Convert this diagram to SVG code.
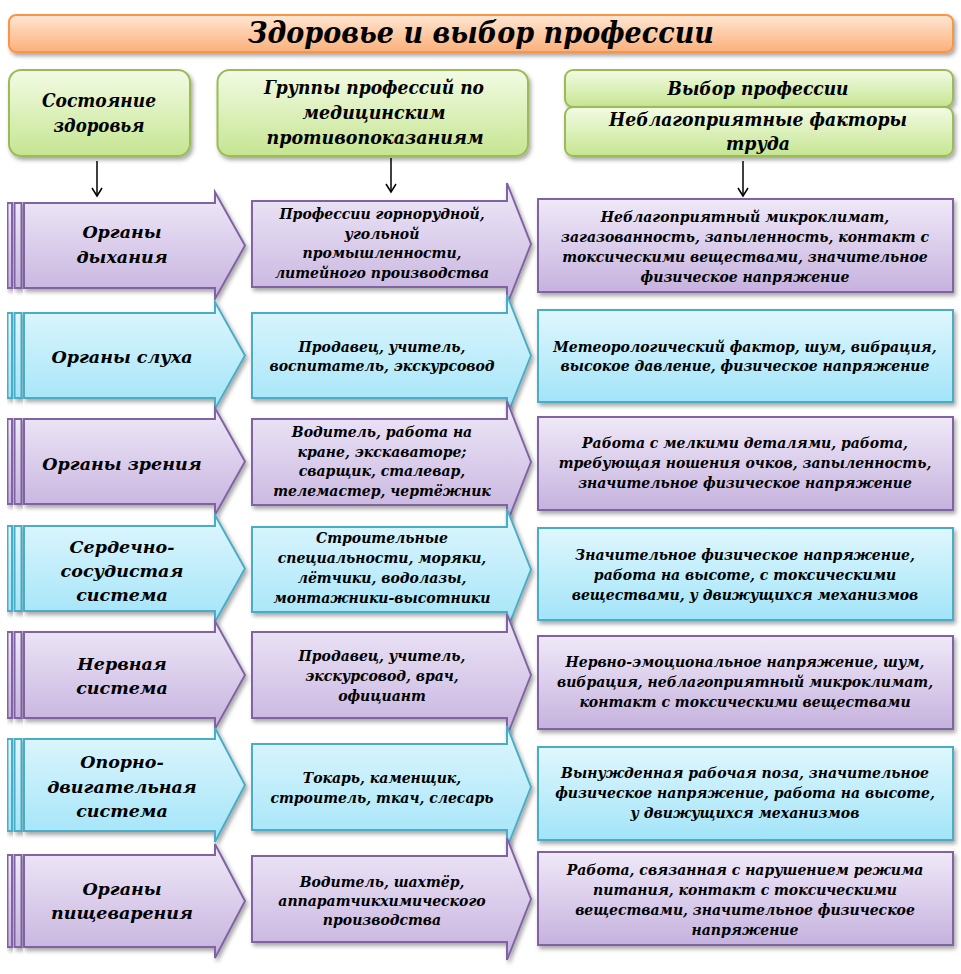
<svg xmlns="http://www.w3.org/2000/svg" width="961" height="974" viewBox="0 0 961 974">
<defs>
<linearGradient id="gP" x1="0" y1="0" x2="0" y2="1"><stop offset="0" stop-color="#efe9f8"/><stop offset="1" stop-color="#c6b2de"/></linearGradient>
<linearGradient id="gT" x1="0" y1="0" x2="0" y2="1"><stop offset="0" stop-color="#e0f7fd"/><stop offset="1" stop-color="#a2e4f8"/></linearGradient>
<linearGradient id="gG" x1="0" y1="0" x2="0" y2="1"><stop offset="0" stop-color="#f3fbe4"/><stop offset="1" stop-color="#c5e591"/></linearGradient>
<linearGradient id="gO" x1="0" y1="0" x2="0" y2="1"><stop offset="0" stop-color="#fee6d3"/><stop offset="1" stop-color="#fbb07a"/></linearGradient>
<filter id="sh" x="-10%" y="-10%" width="130%" height="140%"><feDropShadow dx="2" dy="3" stdDeviation="2" flood-color="#000" flood-opacity="0.35"/></filter>
<marker id="arr" markerWidth="12" markerHeight="12" refX="10" refY="6" orient="auto" markerUnits="userSpaceOnUse"><path d="M2,1 L10,6 L2,11" fill="none" stroke="#000" stroke-width="1.5"/></marker>
<style>
.t{font-family:"DejaVu Serif","Liberation Serif",serif;font-style:italic;fill:#000;text-anchor:middle}
.ti{font-size:29px;font-weight:bold}
.hd{font-size:18px;font-weight:bold}
.l{font-size:17.5px;font-weight:bold}
.m{font-size:14px;font-weight:bold}
.p{fill:url(#gP);stroke:#8064a2;stroke-width:2;filter:url(#sh)}
.c{fill:url(#gT);stroke:#4bacc6;stroke-width:2;filter:url(#sh)}
.g{fill:url(#gG);stroke:#9bbb59;stroke-width:2;filter:url(#sh)}
.o{fill:url(#gO);stroke:#f79646;stroke-width:2;filter:url(#sh)}
.cn{stroke:#000;stroke-width:1.5;fill:none;marker-end:url(#arr)}
</style>
</defs>
<rect width="961" height="974" fill="#fff"/>

<g id="title">
<rect class="o" x="9" y="15" width="944" height="37" rx="7"/>
<text class="t ti" x="481" y="43" textLength="466" lengthAdjust="spacingAndGlyphs">Здоровье и выбор профессии</text>
</g>

<g id="h1">
<rect class="g" x="9" y="70" width="181" height="86" rx="12"/>
<text class="t hd" x="99" y="107" textLength="114" lengthAdjust="spacingAndGlyphs">Состояние</text>
<text class="t hd" x="99" y="132" textLength="91" lengthAdjust="spacingAndGlyphs">здоровья</text>
</g>
<g id="h2">
<rect class="g" x="217.5" y="70" width="310.5" height="86" rx="12"/>
<text class="t hd" x="374" y="94" textLength="220" lengthAdjust="spacingAndGlyphs">Группы профессий по</text>
<text class="t hd" x="374" y="119" textLength="143" lengthAdjust="spacingAndGlyphs">медицинским</text>
<text class="t hd" x="375" y="144" textLength="217" lengthAdjust="spacingAndGlyphs">противопоказаниям</text>
</g>
<g id="h3a">
<rect class="g" x="565" y="70" width="388" height="37" rx="8"/>
<text class="t hd" x="758" y="95" textLength="181" lengthAdjust="spacingAndGlyphs">Выбор профессии</text>
</g>
<g id="h3b">
<rect class="g" x="565" y="107" width="388" height="49" rx="8"/>
<text class="t hd" x="758" y="126" textLength="298" lengthAdjust="spacingAndGlyphs">Неблагоприятные факторы</text>
<text class="t hd" x="758" y="150" textLength="64" lengthAdjust="spacingAndGlyphs">труда</text>
</g>

<g id="connectors">
<line class="cn" x1="97" y1="161" x2="97" y2="196"/>
<line class="cn" x1="391" y1="158" x2="391" y2="192"/>
<line class="cn" x1="743" y1="161" x2="743" y2="196"/>
</g>

<!-- Row 1 -->
<g id="r1-left">
<rect class="p" x="7.5" y="203" width="4.5" height="85"/><rect class="p" x="14.5" y="203" width="7" height="85"/>
<path class="p" d="M24,203 H215 V192 L245,245.5 L215,299 V288 H24 Z"/>
<text class="t l" x="122" y="238">Органы</text><text class="t l" x="122" y="263">дыхания</text>
</g>
<g id="r1-mid">
<path class="p" d="M252,201 H507 V183 L531,244 L507,305 V287 H252 Z"/>
<text class="t m" x="382" y="219">Профессии горнорудной,</text>
<text class="t m" x="382" y="238.5">угольной</text>
<text class="t m" x="382" y="258">промышленности,</text>
<text class="t m" x="382" y="277.5">литейного производства</text>
</g>
<g id="r1-right">
<rect class="p" x="538" y="199" width="415" height="93"/>
<text class="t m" x="745" y="221.5">Неблагоприятный микроклимат,</text>
<text class="t m" x="745" y="241.5">загазованность, запыленность, контакт с</text>
<text class="t m" x="745" y="261.5">токсическими веществами, значительное</text>
<text class="t m" x="745" y="281.5">физическое напряжение</text>
</g>

<!-- Row 2 -->
<g id="r2-left">
<rect class="c" x="7.5" y="313" width="4.5" height="85"/><rect class="c" x="14.5" y="313" width="7" height="85"/>
<path class="c" d="M24,313 H215 V302 L245,355.5 L215,409 V398 H24 Z"/>
<text class="t l" x="122" y="363">Органы слуха</text>
</g>
<g id="r2-mid">
<path class="c" d="M252,313 H507 V295 L531,355.5 L507,416 V398 H252 Z"/>
<text class="t m" x="382" y="352">Продавец, учитель,</text>
<text class="t m" x="382" y="371">воспитатель, экскурсовод</text>
</g>
<g id="r2-right">
<rect class="c" x="538" y="310" width="415" height="92"/>
<text class="t m" x="745" y="352">Метеорологический фактор, шум, вибрация,</text>
<text class="t m" x="745" y="371">высокое давление, физическое напряжение</text>
</g>

<!-- Row 3 -->
<g id="r3-left">
<rect class="p" x="7.5" y="419" width="4.5" height="85"/><rect class="p" x="14.5" y="419" width="7" height="85"/>
<path class="p" d="M24,419 H215 V408 L245,461.5 L215,515 V504 H24 Z"/>
<text class="t l" x="122" y="470">Органы зрения</text>
</g>
<g id="r3-mid">
<path class="p" d="M252,419 H507 V401 L531,462 L507,523 V505 H252 Z"/>
<text class="t m" x="382" y="437">Водитель, работа на</text>
<text class="t m" x="382" y="456.5">кране, экскаваторе;</text>
<text class="t m" x="382" y="476">сварщик, сталевар,</text>
<text class="t m" x="382" y="496">телемастер, чертёжник</text>
</g>
<g id="r3-right">
<rect class="p" x="538" y="417" width="415" height="93"/>
<text class="t m" x="745" y="448">Работа с мелкими деталями, работа,</text>
<text class="t m" x="745" y="468">требующая ношения очков, запыленность,</text>
<text class="t m" x="745" y="488">значительное физическое напряжение</text>
</g>

<!-- Row 4 -->
<g id="r4-left">
<rect class="c" x="7.5" y="526" width="4.5" height="85"/><rect class="c" x="14.5" y="526" width="7" height="85"/>
<path class="c" d="M24,526 H215 V515 L245,568.5 L215,622 V611 H24 Z"/>
<text class="t l" x="122" y="553">Сердечно-</text>
<text class="t l" x="122" y="577">сосудистая</text>
<text class="t l" x="122" y="601">система</text>
</g>
<g id="r4-mid">
<path class="c" d="M252,527 H507 V509 L531,569.5 L507,630 V612 H252 Z"/>
<text class="t m" x="382" y="543">Строительные</text>
<text class="t m" x="382" y="563">специальности, моряки,</text>
<text class="t m" x="382" y="583">лётчики, водолазы,</text>
<text class="t m" x="382" y="603">монтажники-высотники</text>
</g>
<g id="r4-right">
<rect class="c" x="538" y="528" width="415" height="92"/>
<text class="t m" x="745" y="560">Значительное физическое напряжение,</text>
<text class="t m" x="745" y="580">работа на высоте, с токсическими</text>
<text class="t m" x="745" y="600">веществами, у движущихся механизмов</text>
</g>

<!-- Row 5 -->
<g id="r5-left">
<rect class="p" x="7.5" y="632" width="4.5" height="86"/><rect class="p" x="14.5" y="632" width="7" height="86"/>
<path class="p" d="M24,632 H215 V621 L245,675 L215,729 V718 H24 Z"/>
<text class="t l" x="122" y="670">Нервная</text>
<text class="t l" x="122" y="694">система</text>
</g>
<g id="r5-mid">
<path class="p" d="M252,632 H507 V614 L531,675 L507,736 V718 H252 Z"/>
<text class="t m" x="382" y="661">Продавец, учитель,</text>
<text class="t m" x="382" y="681">экскурсовод, врач,</text>
<text class="t m" x="382" y="701">официант</text>
</g>
<g id="r5-right">
<rect class="p" x="538" y="636" width="415" height="93"/>
<text class="t m" x="745" y="667">Нервно-эмоциональное напряжение, шум,</text>
<text class="t m" x="745" y="687">вибрация, неблагоприятный микроклимат,</text>
<text class="t m" x="745" y="707">контакт с токсическими веществами</text>
</g>

<!-- Row 6 -->
<g id="r6-left">
<rect class="c" x="7.5" y="739" width="4.5" height="92"/><rect class="c" x="14.5" y="739" width="7" height="92"/>
<path class="c" d="M24,739 H215 V728 L245,785 L215,842 V831 H24 Z"/>
<text class="t l" x="122" y="768">Опорно-</text>
<text class="t l" x="122" y="793">двигательная</text>
<text class="t l" x="122" y="817">система</text>
</g>
<g id="r6-mid">
<path class="c" d="M252,744 H507 V726 L531,787 L507,848 V830 H252 Z"/>
<text class="t m" x="382" y="783">Токарь, каменщик,</text>
<text class="t m" x="382" y="803">строитель, ткач, слесарь</text>
</g>
<g id="r6-right">
<rect class="c" x="538" y="747" width="415" height="93"/>
<text class="t m" x="745" y="778">Вынужденная рабочая поза, значительное</text>
<text class="t m" x="745" y="798">физическое напряжение, работа на высоте,</text>
<text class="t m" x="745" y="818">у движущихся механизмов</text>
</g>

<!-- Row 7 -->
<g id="r7-left">
<rect class="p" x="7.5" y="855" width="4.5" height="92"/><rect class="p" x="14.5" y="855" width="7" height="92"/>
<path class="p" d="M24,855 H215 V844 L245,901 L215,958 V947 H24 Z"/>
<text class="t l" x="122" y="895">Органы</text>
<text class="t l" x="122" y="919">пищеварения</text>
</g>
<g id="r7-mid">
<path class="p" d="M252,856 H507 V838 L531,899 L507,960 V942 H252 Z"/>
<text class="t m" x="382" y="887">Водитель, шахтёр,</text>
<text class="t m" x="382" y="906">аппаратчикхимического</text>
<text class="t m" x="382" y="925">производства</text>
</g>
<g id="r7-right">
<rect class="p" x="538" y="852" width="415" height="93"/>
<text class="t m" x="745" y="875">Работа, связанная с нарушением режима</text>
<text class="t m" x="745" y="895">питания, контакт с токсическими</text>
<text class="t m" x="745" y="915">веществами, значительное физическое</text>
<text class="t m" x="745" y="935">напряжение</text>
</g>
</svg>
